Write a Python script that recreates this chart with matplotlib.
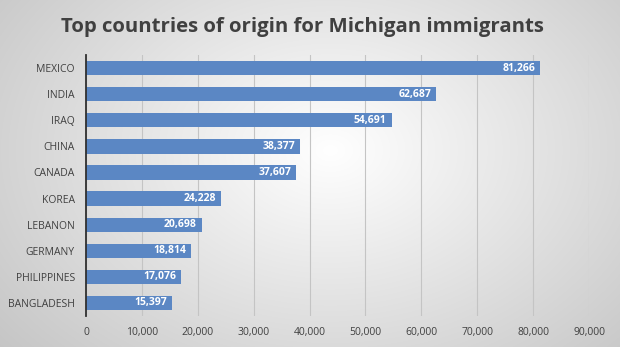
import numpy as np
import matplotlib
matplotlib.use("Agg")
import matplotlib.pyplot as plt
from matplotlib.ticker import FuncFormatter

countries = ["MEXICO", "INDIA", "IRAQ", "CHINA", "CANADA", "KOREA", "LEBANON",
             "GERMANY", "PHILIPPINES", "BANGLADESH"]
values = [81266, 62687, 54691, 38377, 37607, 24228, 20698, 18814, 17076, 15397]
xticks = list(range(0, 90001, 10000))

plt.rcParams['font.family'] = ['Open Sans', 'DejaVu Sans']

fig = plt.figure(figsize=(6.2, 3.47), dpi=100)

# radial gradient background
bg = fig.add_axes([0, 0, 1, 1], zorder=-10)
yy, xx = np.mgrid[0:347, 0:620]
cx, cy = 330, 150
r = np.sqrt(((xx - cx) / 420.0) ** 2 + ((yy - cy) / 300.0) ** 2)
g = np.clip(1.0 - 0.22 * r, 0.76, 1.0)
img = np.dstack([g, g, g])
bg.imshow(img, aspect='auto', extent=[0, 1, 0, 1], interpolation='bilinear')
bg.axis('off')

ax = fig.add_axes([0.1387, 0.0893, 0.8113, 0.752])
ax.patch.set_alpha(0)
ypos = np.arange(len(countries))
ax.barh(ypos, values, height=0.55, color='#5B87C4', edgecolor='none', zorder=3)
ax.set_ylim(len(countries) - 0.5, -0.5)
ax.set_xlim(0, 90000)
ax.set_yticks(ypos)
ax.set_yticklabels(countries, fontsize=7.5, color='#404040')
ax.set_xticks(xticks)
ax.xaxis.set_major_formatter(FuncFormatter(lambda v, p: f"{int(v):,}"))
ax.tick_params(axis='x', labelsize=7.5, labelcolor='#404040', length=0, pad=8)
ax.tick_params(axis='y', length=0, pad=8)
ax.grid(axis='x', color='#C4C4C4', linewidth=0.8, zorder=0)
for s in ['top', 'right', 'bottom']:
    ax.spines[s].set_visible(False)
ax.spines['left'].set_color('#303030')
ax.spines['left'].set_linewidth(1.3)
ax.spines['left'].set_zorder(4)

for y, v in zip(ypos, values):
    ax.text(v - 900, y, f"{v:,}", ha='right', va='center', color='white',
            fontsize=7.5, fontweight='bold', zorder=5)

fig.text(0.488, 0.922, "Top countries of origin for Michigan immigrants",
         ha='center', va='center', fontsize=14.7, fontweight='bold', color='#404040')

fig.savefig("out.png", dpi=100)
